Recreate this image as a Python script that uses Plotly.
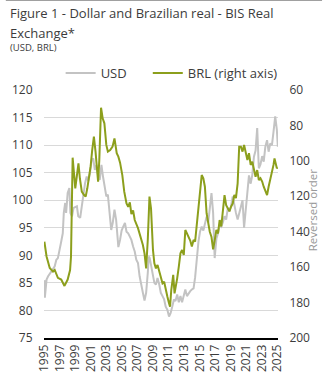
import plotly.graph_objects as go

# ---- data (decimal years, index values) ----
usd_t = [1995.0, 1995.06, 1995.28, 1995.48, 1995.91, 1996.33, 1996.54, 1996.74, 1997.17, 1997.37,
         1997.5, 1997.68, 1997.8, 1998.0, 1998.22, 1998.35, 1998.56, 1998.76, 1999.19, 1999.36,
         1999.61, 1999.82, 2000.03, 2000.24, 2000.45, 2000.66, 2000.87, 2001.09, 2001.29, 2001.5,
         2001.72, 2001.92, 2002.13, 2002.35, 2002.55, 2002.77, 2002.98, 2003.18, 2003.4, 2003.61,
         2003.81, 2004.03, 2004.24, 2004.44, 2004.53, 2004.75, 2004.95, 2005.16, 2005.38, 2005.58,
         2005.8, 2006.01, 2006.21, 2006.43, 2006.64, 2006.84, 2007.06, 2007.27, 2007.47, 2007.69,
         2007.9, 2008.11, 2008.32, 2008.45, 2008.57, 2008.74, 2008.95, 2009.17, 2009.37, 2009.58,
         2009.8, 2010.0, 2010.22, 2010.43, 2010.63, 2010.85, 2011.06, 2011.26, 2011.48, 2011.69,
         2011.89, 2012.11, 2012.32, 2012.53, 2012.74, 2012.96, 2013.16, 2013.37, 2013.59, 2013.79,
         2014.0, 2014.22, 2014.42, 2014.63, 2014.85, 2015.05, 2015.27, 2015.48, 2015.68, 2015.9,
         2016.11, 2016.31, 2016.53, 2016.74, 2016.94, 2017.16, 2017.37, 2017.58, 2017.79, 2018.0,
         2018.21, 2018.42, 2018.64, 2018.84, 2019.05, 2019.27, 2019.47, 2019.68, 2019.9, 2020.1,
         2020.32, 2020.53, 2020.73, 2020.95, 2021.16, 2021.36, 2021.58, 2021.79, 2022.0, 2022.21,
         2022.42, 2022.63, 2022.84, 2023.06, 2023.26, 2023.47, 2023.69, 2023.89, 2024.1, 2024.32,
         2024.52, 2024.74, 2024.95, 2025.08]
usd_v = [85.5, 82.3, 85.6, 86.2, 87.1, 88.0, 89.2, 89.5, 92.5, 94.0,
         97.7, 99.5, 97.7, 101.3, 102.2, 97.7, 97.1, 98.6, 98.9, 97.1,
         96.8, 98.9, 101.3, 103.1, 104.3, 103.5, 104.9, 107.3, 107.6, 105.5,
         106.4, 104.6, 103.7, 106.4, 104.3, 102.5, 100.7, 101.0, 98.0, 94.6,
         95.9, 98.3, 96.5, 93.7, 91.5, 92.8, 94.5, 95.2, 95.9, 94.3,
         94.0, 93.4, 92.8, 91.6, 90.7, 89.2, 88.6, 86.2, 84.4, 83.2,
         81.8, 83.2, 86.8, 89.8, 89.5, 88.0, 86.2, 85.0, 84.7, 85.9,
         84.7, 83.2, 82.6, 82.0, 80.7, 80.1, 78.9, 79.5, 80.7, 82.0,
         81.7, 82.9, 81.5, 82.6, 81.5, 82.9, 83.8, 82.6, 83.2, 83.5,
         83.8, 84.0, 86.0, 89.8, 92.5, 94.3, 95.2, 94.5, 95.9, 97.0,
         96.0, 99.0, 101.3, 97.7, 89.5, 93.0, 94.0, 95.5, 95.2, 96.0,
         97.1, 96.5, 98.6, 98.0, 98.9, 100.7, 98.9, 97.7, 96.5, 97.5,
         99.0, 100.0, 95.0, 98.0, 101.0, 104.5, 103.0, 104.6, 107.9, 109.0,
         113.1, 105.8, 106.5, 108.0, 107.0, 109.7, 110.9, 108.8, 110.3, 110.0,
         112.4, 115.2, 112.8, 109.7]

brl_t = [1995.0, 1995.28, 1995.69, 1996.11, 1996.33, 1996.74, 1997.17, 1997.59, 1998.0, 1998.31,
         1998.43, 1998.56, 1998.64, 1998.98, 1999.39, 1999.57, 1999.82, 2000.11, 2000.32, 2000.53,
         2000.74, 2000.96, 2001.16, 2001.38, 2001.59, 2001.76, 2001.92, 2002.07, 2002.3, 2002.51,
         2002.73, 2002.98, 2003.18, 2003.48, 2003.78, 2004.03, 2004.32, 2004.53, 2004.75, 2005.04,
         2005.29, 2005.58, 2005.8, 2006.01, 2006.21, 2006.43, 2006.64, 2007.06, 2007.27, 2007.47,
         2007.69, 2007.9, 2008.11, 2008.32, 2008.45, 2008.54, 2008.74, 2008.86, 2008.99, 2009.17,
         2009.37, 2009.58, 2009.8, 2010.0, 2010.22, 2010.43, 2010.63, 2010.85, 2011.06, 2011.19,
         2011.35, 2011.48, 2011.6, 2011.77, 2011.94, 2012.11, 2012.32, 2012.53, 2012.74, 2012.96,
         2013.16, 2013.37, 2013.59, 2013.79, 2014.0, 2014.22, 2014.42, 2014.63, 2014.85, 2015.05,
         2015.27, 2015.48, 2015.68, 2015.9, 2016.11, 2016.31, 2016.53, 2016.74, 2016.94, 2017.16,
         2017.37, 2017.58, 2017.79, 2018.0, 2018.21, 2018.42, 2018.64, 2018.84, 2019.05, 2019.27,
         2019.47, 2019.68, 2019.9, 2020.1, 2020.32, 2020.53, 2020.73, 2020.95, 2021.16, 2021.36,
         2021.58, 2021.79, 2022.0, 2022.21, 2022.42, 2022.63, 2022.84, 2023.06, 2023.26, 2023.47,
         2023.69, 2023.89, 2024.1, 2024.32, 2024.52, 2024.65, 2024.82, 2024.95, 2025.08]
brl_v = [145.6, 154.0, 160.5, 162.5, 161.6, 166.0, 167.0, 170.6, 167.0, 161.6,
         154.0, 130.0, 98.2, 115.5, 101.4, 109.8, 117.4, 119.3, 120.2, 115.5,
         109.8, 103.0, 93.9, 86.3, 94.8, 105.0, 111.7, 100.0, 70.0, 76.0,
         78.8, 91.0, 94.8, 93.9, 92.0, 87.3, 95.7, 97.6, 101.0, 108.0,
         117.4, 124.0, 126.0, 123.4, 130.0, 128.0, 133.4, 138.0, 140.9, 143.7,
         147.5, 152.2, 160.7, 144.7, 133.4, 120.2, 127.0, 139.0, 150.3, 157.8,
         160.7, 158.8, 162.6, 165.4, 169.1, 168.2, 172.9, 176.7, 180.4, 182.3,
         172.9, 167.3, 164.4, 174.8, 171.0, 166.3, 159.7, 152.2, 150.3, 153.1,
         139.0, 141.0, 142.8, 145.0, 148.4, 144.7, 145.6, 137.0, 127.0, 117.0,
         108.0, 109.8, 114.6, 129.6, 136.0, 140.0, 143.0, 150.0, 145.0, 139.0,
         141.0, 133.4, 137.0, 129.6, 119.3, 125.0, 126.8, 128.5, 125.9, 124.0,
         119.3, 121.0, 112.7, 92.0, 92.0, 94.8, 91.0, 94.8, 99.5, 95.7,
         102.3, 100.5, 104.2, 109.0, 105.2, 110.8, 109.8, 111.7, 114.6, 116.5,
         119.3, 114.6, 110.8, 105.2, 102.3, 98.6, 102.3, 104.2, 103.6]

x_ticks = list(range(1995, 2026, 2))
left_ticks = [75, 80, 85, 90, 95, 100, 105, 110, 115, 120]
right_ticks = [60, 80, 100, 120, 140, 160, 180, 200]

FONT = "Open Sans"
TXT = "#3c3c3c"
GREY = "#c3c3c3"
GREEN = "#8c9f1c"

W, H = 323, 386
L, R, T, B = 39, 45, 90, 48
pw, ph = W - L - R, H - T - B


def px(xp):
    return (xp - L) / pw


def py(yp):
    return (H - B - yp) / ph


fig = go.Figure()
fig.add_trace(go.Scatter(x=usd_t, y=usd_v, mode="lines", name="USD",
                         line=dict(color=GREY, width=2), yaxis="y", legend="legend"))
fig.add_trace(go.Scatter(x=brl_t, y=brl_v, mode="lines", name="BRL (right axis)",
                         line=dict(color=GREEN, width=2), yaxis="y2", legend="legend2"))

leg_common = dict(orientation="h", yanchor="middle", y=py(73), xanchor="left",
                  font=dict(size=13, color=TXT, family=FONT), bgcolor="rgba(0,0,0,0)",
                  itemwidth=30)

fig.update_layout(
    width=W, height=H,
    margin=dict(l=L, r=R, t=T, b=B),
    paper_bgcolor="white", plot_bgcolor="white",
    font=dict(family=FONT, size=12, color=TXT),
    showlegend=True,
    legend=dict(x=px(56), **leg_common),
    legend2=dict(x=px(145), **leg_common),
    xaxis=dict(range=[1994.95, 2025.1], tickvals=x_ticks, ticktext=[str(v) for v in x_ticks],
               tickangle=-90, showgrid=False, zeroline=False, showline=True,
               linecolor="black", linewidth=1.5, ticks="", tickfont=dict(size=12, color=TXT)),
    yaxis=dict(range=[75, 120], tickvals=left_ticks, showgrid=True, gridcolor="#d9d9d9",
               gridwidth=1.3, zeroline=False, showline=False, ticks="outside", ticklen=8,
               tickcolor="rgba(0,0,0,0)", tickfont=dict(size=12, color=TXT)),
    yaxis2=dict(range=[200, 60], tickvals=right_ticks, overlaying="y", side="right",
                showgrid=False, zeroline=False, showline=False, ticks="outside", ticklen=8,
                tickcolor="rgba(0,0,0,0)", tickfont=dict(size=12, color=TXT)),
    annotations=[
        dict(text="Figure 1 - Dollar and Brazilian real - BIS Real", xref="paper", yref="paper",
             x=px(2), y=py(2), xanchor="left", yanchor="top", showarrow=False,
             font=dict(size=13, color=TXT, family=FONT)),
        dict(text="Exchange*", xref="paper", yref="paper",
             x=px(2), y=py(22), xanchor="left", yanchor="top", showarrow=False,
             font=dict(size=13, color=TXT, family=FONT)),
        dict(text="(USD, BRL)", xref="paper", yref="paper",
             x=px(2), y=py(39), xanchor="left", yanchor="top", showarrow=False,
             font=dict(size=9.5, color=TXT, family=FONT)),
        dict(text="Reversed order", xref="paper", yref="paper", textangle=-90,
             x=px(313), y=py(210), xanchor="center", yanchor="middle", showarrow=False,
             font=dict(size=11.5, color="#999999", family=FONT)),
    ],
    shapes=[dict(type="line", xref="paper", yref="paper", x0=px(0), x1=px(W), y0=py(0.5), y1=py(0.5),
                 line=dict(color="#a0a0a0", width=1))],
)

fig.write_html("out.html")
